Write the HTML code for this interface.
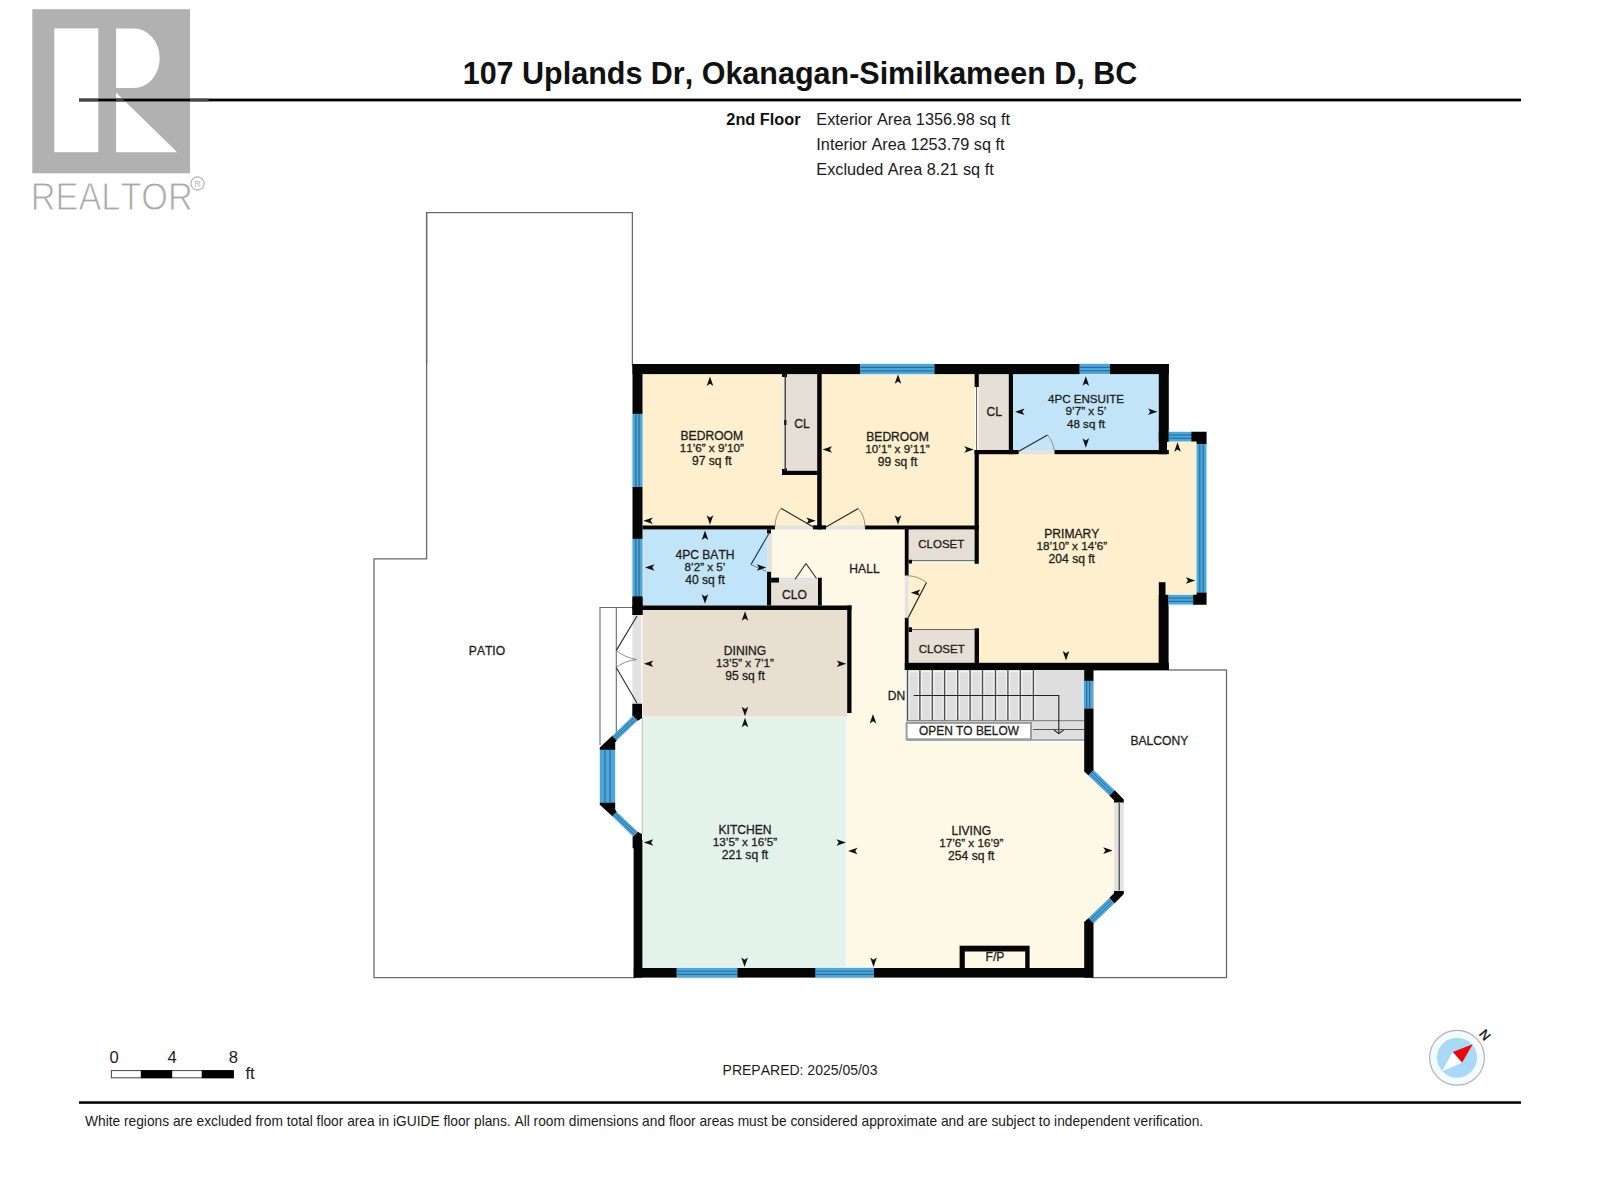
<!DOCTYPE html>
<html><head><meta charset="utf-8"><title>Floor plan</title>
<style>
html,body{margin:0;padding:0;background:#fff;}
body{width:1600px;height:1200px;overflow:hidden;}
svg{display:block;font-family:"Liberation Sans",sans-serif;font-kerning:none;}
</style></head><body>
<svg width="1600" height="1200" viewBox="0 0 1600 1200">
<rect x="0" y="0" width="1600" height="1200" fill="#fff"/>
<rect x="32.30" y="9.20" width="157.70" height="164.10" fill="#b1b1b1" />
<rect x="54.30" y="28.40" width="44.00" height="123.80" fill="#ffffff" />
<path d="M116.1,28.4 H134 A25.7,29.8 0 0 1 134,88 H116.1 Z" stroke="none" stroke-width="0" fill="#ffffff" />
<polygon points="116.10,92.60 177.20,152.20 116.10,152.20" fill="#ffffff" />
<text x="30.80" y="210.00" font-size="38" text-anchor="start" font-weight="normal" fill="#a9a9a9" textLength="162" lengthAdjust="spacingAndGlyphs" stroke="#fff" stroke-width="0.9">REALTOR</text>
<circle cx="197.5" cy="183.5" r="6.6" fill="none" stroke="#b5b5b5" stroke-width="1.2"/>
<text x="197.50" y="187.20" font-size="9" text-anchor="middle" font-weight="normal" fill="#b5b5b5" >R</text>
<text x="800.00" y="83.50" font-size="30.5" text-anchor="middle" font-weight="bold" fill="#111" >107 Uplands Dr, Okanagan-Similkameen D, BC</text>
<rect x="79.00" y="98.60" width="1442.00" height="2.80" fill="#000" />
<rect x="79.00" y="98.60" width="19.30" height="2.80" fill="#474747" />
<rect x="190.00" y="98.60" width="18.50" height="2.80" fill="#474747" />
<polygon points="116.10,98.60 122.10,98.60 125.00,101.40 116.10,101.40" fill="#474747" />
<text x="800.50" y="125.10" font-size="16.3" text-anchor="end" font-weight="bold" fill="#111" >2nd Floor</text>
<text x="816.30" y="125.10" font-size="16.3" text-anchor="start" font-weight="normal" fill="#1a1a1a" >Exterior Area 1356.98 sq ft</text>
<text x="816.30" y="150.00" font-size="16.3" text-anchor="start" font-weight="normal" fill="#1a1a1a" >Interior Area 1253.79 sq ft</text>
<text x="816.30" y="174.80" font-size="16.3" text-anchor="start" font-weight="normal" fill="#1a1a1a" >Excluded Area 8.21 sq ft</text>
<path d="M426.6,364 V212.6 H632.4 V366" stroke="#6a6a6a" stroke-width="1.3" fill="none" />
<path d="M426.6,212.6 V558.8 H374 V977.6 H636" stroke="#6a6a6a" stroke-width="1.3" fill="none" />
<path d="M600,745 V607.5 H633" stroke="#6a6a6a" stroke-width="1.1" fill="none" />
<line x1="616.30" y1="607.50" x2="616.30" y2="733.00" stroke="#6a6a6a" stroke-width="1.1" />
<line x1="642.30" y1="717.00" x2="642.30" y2="834.00" stroke="#8a8a8a" stroke-width="0.9" />
<rect x="1092" y="670" width="134.5" height="307.6" fill="#fff" stroke="#6a6a6a" stroke-width="1.3"/>
<rect x="642.50" y="373.80" width="175.00" height="152.20" fill="#fef0ce" />
<rect x="785.00" y="373.80" width="32.50" height="97.20" fill="#e6dfd5" />
<rect x="821.50" y="373.80" width="153.50" height="152.20" fill="#fef0ce" />
<rect x="978.50" y="373.80" width="30.50" height="76.20" fill="#e6dfd5" />
<rect x="1013.00" y="373.80" width="146.00" height="76.20" fill="#c1e4f9" />
<polygon points="979.00,454.00 1167.00,454.00 1167.00,441.00 1197.00,441.00 1197.00,595.50 1165.00,595.50 1165.00,663.00 979.00,663.00 979.00,630.00 908.50,630.00 908.50,563.00 979.00,563.00" fill="#fef0ce" />
<rect x="908.50" y="529.00" width="66.20" height="31.50" fill="#e6dfd5" />
<rect x="908.50" y="630.50" width="66.20" height="32.50" fill="#e6dfd5" />
<rect x="642.50" y="529.00" width="125.00" height="76.50" fill="#c1e4f9" />
<polygon points="771.00,529.00 905.00,529.00 905.00,742.00 1088.00,742.00 1088.00,770.00 1118.00,799.00 1118.00,895.00 1088.00,922.00 1088.00,968.00 847.00,968.00 847.00,605.50 771.00,605.50" fill="#fef8e7" />
<rect x="771.00" y="582.50" width="47.50" height="23.00" fill="#e6dfd5" />
<rect x="642.50" y="610.00" width="205.00" height="107.00" fill="#e8dfd1" />
<rect x="642.50" y="717.00" width="203.50" height="251.00" fill="#e4f2ec" />
<line x1="642.50" y1="716.80" x2="846.00" y2="716.80" stroke="#f1eee6" stroke-width="1.6" />
<rect x="906.50" y="670.00" width="177.50" height="71.00" fill="#dedede" />
<line x1="906.50" y1="671.60" x2="1033.40" y2="671.60" stroke="#f3f3f3" stroke-width="1.2" />
<line x1="905.90" y1="671.00" x2="905.90" y2="719.50" stroke="#f2f2f2" stroke-width="1" />
<line x1="909.20" y1="671.00" x2="909.20" y2="719.50" stroke="#f2f2f2" stroke-width="1.1" />
<line x1="918.30" y1="671.00" x2="918.30" y2="719.50" stroke="#f2f2f2" stroke-width="1" />
<line x1="921.60" y1="671.00" x2="921.60" y2="719.50" stroke="#f2f2f2" stroke-width="1.1" />
<line x1="930.70" y1="671.00" x2="930.70" y2="719.50" stroke="#f2f2f2" stroke-width="1" />
<line x1="934.00" y1="671.00" x2="934.00" y2="719.50" stroke="#f2f2f2" stroke-width="1.1" />
<line x1="943.00" y1="671.00" x2="943.00" y2="719.50" stroke="#f2f2f2" stroke-width="1" />
<line x1="946.30" y1="671.00" x2="946.30" y2="719.50" stroke="#f2f2f2" stroke-width="1.1" />
<line x1="956.10" y1="671.00" x2="956.10" y2="719.50" stroke="#f2f2f2" stroke-width="1" />
<line x1="959.40" y1="671.00" x2="959.40" y2="719.50" stroke="#f2f2f2" stroke-width="1.1" />
<line x1="968.50" y1="671.00" x2="968.50" y2="719.50" stroke="#f2f2f2" stroke-width="1" />
<line x1="971.80" y1="671.00" x2="971.80" y2="719.50" stroke="#f2f2f2" stroke-width="1.1" />
<line x1="980.90" y1="671.00" x2="980.90" y2="719.50" stroke="#f2f2f2" stroke-width="1" />
<line x1="984.20" y1="671.00" x2="984.20" y2="719.50" stroke="#f2f2f2" stroke-width="1.1" />
<line x1="993.90" y1="671.00" x2="993.90" y2="719.50" stroke="#f2f2f2" stroke-width="1" />
<line x1="997.20" y1="671.00" x2="997.20" y2="719.50" stroke="#f2f2f2" stroke-width="1.1" />
<line x1="1006.30" y1="671.00" x2="1006.30" y2="719.50" stroke="#f2f2f2" stroke-width="1" />
<line x1="1009.60" y1="671.00" x2="1009.60" y2="719.50" stroke="#f2f2f2" stroke-width="1.1" />
<line x1="1018.70" y1="671.00" x2="1018.70" y2="719.50" stroke="#f2f2f2" stroke-width="1" />
<line x1="1022.00" y1="671.00" x2="1022.00" y2="719.50" stroke="#f2f2f2" stroke-width="1.1" />
<line x1="1031.80" y1="671.00" x2="1031.80" y2="719.50" stroke="#f2f2f2" stroke-width="1" />
<line x1="1035.10" y1="671.00" x2="1035.10" y2="719.50" stroke="#f2f2f2" stroke-width="1.1" />
<line x1="907.50" y1="670.00" x2="907.50" y2="720.50" stroke="#4f4f4f" stroke-width="1.3" />
<line x1="919.90" y1="670.00" x2="919.90" y2="720.50" stroke="#4f4f4f" stroke-width="1.3" />
<line x1="932.30" y1="670.00" x2="932.30" y2="720.50" stroke="#4f4f4f" stroke-width="1.3" />
<line x1="944.60" y1="670.00" x2="944.60" y2="720.50" stroke="#4f4f4f" stroke-width="1.3" />
<line x1="957.70" y1="670.00" x2="957.70" y2="720.50" stroke="#4f4f4f" stroke-width="1.3" />
<line x1="970.10" y1="670.00" x2="970.10" y2="720.50" stroke="#4f4f4f" stroke-width="1.3" />
<line x1="982.50" y1="670.00" x2="982.50" y2="720.50" stroke="#4f4f4f" stroke-width="1.3" />
<line x1="995.50" y1="670.00" x2="995.50" y2="720.50" stroke="#4f4f4f" stroke-width="1.3" />
<line x1="1007.90" y1="670.00" x2="1007.90" y2="720.50" stroke="#4f4f4f" stroke-width="1.3" />
<line x1="1020.30" y1="670.00" x2="1020.30" y2="720.50" stroke="#4f4f4f" stroke-width="1.3" />
<line x1="1033.40" y1="670.00" x2="1033.40" y2="720.50" stroke="#4f4f4f" stroke-width="1.3" />
<line x1="906.50" y1="720.70" x2="1084.00" y2="720.70" stroke="#777" stroke-width="1" />
<line x1="1033.00" y1="729.50" x2="1084.00" y2="729.50" stroke="#555" stroke-width="1" />
<line x1="906.50" y1="740.00" x2="1084.00" y2="740.00" stroke="#9a9a9a" stroke-width="1.5" />
<rect x="906.6" y="722.9" width="124.4" height="16.4" fill="#fff" stroke="#9c9c9c" stroke-width="2"/>
<text x="969.00" y="735.00" font-size="11.9" text-anchor="middle" font-weight="normal" fill="#1e1e1a" stroke="#1e1e1a" stroke-width="0.3" >OPEN TO BELOW</text>
<path d="M913.7,695.5 H1058.8 V733" stroke="#222" stroke-width="1.1" fill="none" />
<path d="M1054,730 L1058.8,733.6 L1063.6,730" stroke="#222" stroke-width="1.1" fill="none" />
<text x="896.50" y="699.60" font-size="12.1" text-anchor="middle" font-weight="normal" fill="#1e1e1a" stroke="#1e1e1a" stroke-width="0.3" >DN</text>
<rect x="775.00" y="525.50" width="42.00" height="3.90" fill="#e2e2e2" />
<rect x="826.00" y="525.50" width="39.00" height="3.90" fill="#e2e2e2" />
<rect x="767.00" y="533.50" width="5.00" height="38.30" fill="#e2e2e2" />
<rect x="779.00" y="577.60" width="39.00" height="5.00" fill="#e2e2e2" />
<rect x="1018.70" y="450.00" width="35.80" height="4.20" fill="#e2e2e2" />
<rect x="904.80" y="575.50" width="3.80" height="42.30" fill="#e2e2e2" />
<rect x="632.40" y="615.00" width="8.90" height="89.00" fill="#e2e2e2" />
<rect x="1114.30" y="802.30" width="9.50" height="88.70" fill="#e2e2e2" />
<rect x="632.50" y="364.00" width="536.30" height="10.10" fill="#050505" />
<rect x="632.50" y="364.00" width="10.00" height="251.00" fill="#050505" />
<rect x="1158.80" y="364.00" width="10.00" height="77.60" fill="#050505" />
<rect x="1158.80" y="441.00" width="8.20" height="13.20" fill="#050505" />
<rect x="1158.80" y="431.70" width="10.80" height="9.90" fill="#050505" />
<rect x="1158.80" y="582.20" width="6.70" height="87.80" fill="#050505" />
<rect x="1158.80" y="594.80" width="9.80" height="75.20" fill="#050505" />
<rect x="904.80" y="662.80" width="264.00" height="7.20" fill="#050505" />
<rect x="642.50" y="525.50" width="132.50" height="3.90" fill="#050505" />
<rect x="817.20" y="373.80" width="4.50" height="155.60" fill="#050505" />
<rect x="813.00" y="525.30" width="13.00" height="4.10" fill="#050505" />
<rect x="865.00" y="525.50" width="114.00" height="3.90" fill="#050505" />
<rect x="974.60" y="373.80" width="4.20" height="13.20" fill="#050505" />
<rect x="974.60" y="450.00" width="4.20" height="113.80" fill="#050505" />
<rect x="974.60" y="450.00" width="38.40" height="4.20" fill="#050505" />
<rect x="1008.80" y="373.80" width="4.20" height="80.40" fill="#050505" />
<rect x="1013.00" y="450.00" width="5.70" height="4.20" fill="#050505" />
<rect x="1054.50" y="450.00" width="114.30" height="4.20" fill="#050505" />
<rect x="782.00" y="470.80" width="35.50" height="4.20" fill="#050505" />
<rect x="782.00" y="468.50" width="5.00" height="6.50" fill="#050505" />
<rect x="782.00" y="373.80" width="5.00" height="3.40" fill="#050505" />
<rect x="781.60" y="377.00" width="3.00" height="92.00" fill="#f1ede6" />
<line x1="785.20" y1="375.00" x2="785.20" y2="471.00" stroke="#333" stroke-width="1.3" />
<rect x="784.00" y="420.00" width="2.50" height="5.00" fill="#222" />
<line x1="976.60" y1="387.00" x2="976.60" y2="450.00" stroke="#555" stroke-width="1" />
<rect x="767.00" y="529.40" width="4.00" height="4.10" fill="#050505" />
<rect x="767.00" y="571.80" width="4.10" height="33.70" fill="#050505" />
<rect x="771.10" y="577.70" width="7.90" height="4.90" fill="#050505" />
<rect x="818.00" y="577.70" width="3.80" height="27.80" fill="#050505" />
<rect x="632.50" y="605.50" width="219.00" height="4.50" fill="#050505" />
<rect x="847.20" y="605.50" width="4.30" height="107.50" fill="#050505" />
<rect x="904.80" y="529.00" width="3.80" height="46.50" fill="#050505" />
<rect x="904.80" y="617.80" width="3.80" height="52.20" fill="#050505" />
<rect x="908.60" y="559.80" width="3.40" height="3.70" fill="#050505" />
<rect x="908.60" y="627.30" width="3.40" height="4.70" fill="#050505" />
<line x1="912.00" y1="560.70" x2="975.00" y2="560.70" stroke="#555" stroke-width="1" />
<line x1="912.00" y1="629.60" x2="975.00" y2="629.60" stroke="#555" stroke-width="1" />
<rect x="974.60" y="628.30" width="4.40" height="41.70" fill="#050505" />
<rect x="632.50" y="597.40" width="10.00" height="17.60" fill="#050505" />
<polygon points="632.50,703.80 642.00,703.80 642.00,717.50 637.50,721.00 632.50,716.00" fill="#050505" />
<polygon points="632.60,703.90 642.00,703.90 642.00,718.00 637.80,720.40 633.00,715.80 632.60,715.80" fill="#050505" />
<polygon points="632.60,848.30 642.00,848.30 642.00,834.20 637.80,831.80 633.00,836.40 632.60,836.40" fill="#050505" />
<polygon points="612.60,735.60 617.00,740.00 615.20,742.50 615.20,749.90 599.80,749.90 599.80,747.40" fill="#050505" />
<polygon points="612.60,816.60 617.00,812.20 615.20,809.70 615.20,802.30 599.80,802.30 599.80,804.80" fill="#050505" />
<polygon points="633.00,715.80 637.80,720.40 616.60,740.40 612.20,736.00" fill="#4fa6d6" />
<line x1="634.60" y1="717.33" x2="613.67" y2="737.47" stroke="#256fa0" stroke-width="1.0" />
<line x1="636.20" y1="718.87" x2="615.13" y2="738.93" stroke="#256fa0" stroke-width="1.0" />
<polygon points="633.00,836.40 637.80,831.80 616.60,811.80 612.20,816.20" fill="#4fa6d6" />
<line x1="634.60" y1="834.87" x2="613.67" y2="814.73" stroke="#256fa0" stroke-width="1.0" />
<line x1="636.20" y1="833.33" x2="615.13" y2="813.27" stroke="#256fa0" stroke-width="1.0" />
<polygon points="599.80,749.70 599.80,802.50 615.20,802.50 615.20,749.70" fill="#4fa6d6" />
<line x1="610.07" y1="749.70" x2="610.07" y2="802.50" stroke="#256fa0" stroke-width="1.15" />
<line x1="604.93" y1="749.70" x2="604.93" y2="802.50" stroke="#256fa0" stroke-width="1.15" />
<line x1="615.70" y1="749.70" x2="615.70" y2="802.50" stroke="#d4f1fb" stroke-width="1.0" />
<line x1="599.30" y1="749.70" x2="599.30" y2="802.50" stroke="#d4f1fb" stroke-width="1.0" />
<rect x="633.60" y="840.00" width="8.80" height="137.60" fill="#050505" />
<rect x="633.80" y="968.00" width="458.50" height="9.60" fill="#050505" />
<rect x="959.60" y="945.70" width="70.00" height="22.30" fill="#050505" />
<rect x="964.80" y="951.50" width="60.40" height="16.50" fill="#fef8e7" />
<text x="995.00" y="961.20" font-size="12.1" text-anchor="middle" font-weight="normal" fill="#1e1e1a" stroke="#1e1e1a" stroke-width="0.3" >F/P</text>
<rect x="1084.20" y="670.00" width="9.30" height="101.00" fill="#050505" />
<rect x="1084.20" y="922.00" width="9.30" height="55.60" fill="#050505" />
<polygon points="1084.20,770.50 1093.50,769.50 1093.50,770.60 1088.60,775.60 1084.20,771.50" fill="#050505" />
<polygon points="1084.20,923.00 1093.50,924.00 1093.50,922.90 1088.60,917.90 1084.20,922.00" fill="#050505" />
<polygon points="1109.20,795.40 1114.50,790.10 1123.80,799.50 1123.80,802.60 1114.00,802.60 1114.00,800.20" fill="#050505" />
<polygon points="1109.20,898.10 1114.50,903.40 1123.80,894.00 1123.80,890.90 1114.00,890.90 1114.00,893.30" fill="#050505" />
<polygon points="1088.30,775.40 1093.60,770.10 1114.60,790.30 1109.40,795.60" fill="#4fa6d6" />
<line x1="1090.07" y1="773.63" x2="1111.13" y2="793.83" stroke="#256fa0" stroke-width="1.0" />
<line x1="1091.83" y1="771.87" x2="1112.87" y2="792.07" stroke="#256fa0" stroke-width="1.0" />
<polygon points="1088.30,918.10 1093.60,923.40 1114.60,903.20 1109.40,897.90" fill="#4fa6d6" />
<line x1="1090.07" y1="919.87" x2="1111.13" y2="899.67" stroke="#256fa0" stroke-width="1.0" />
<line x1="1091.83" y1="921.63" x2="1112.87" y2="901.43" stroke="#256fa0" stroke-width="1.0" />
<line x1="1119.20" y1="803.00" x2="1119.20" y2="890.50" stroke="#222" stroke-width="1" />
<polygon points="860.00,374.20 934.50,374.20 934.50,364.00 860.00,364.00" fill="#4fa6d6" />
<line x1="860.00" y1="367.40" x2="934.50" y2="367.40" stroke="#256fa0" stroke-width="1.15" />
<line x1="860.00" y1="370.80" x2="934.50" y2="370.80" stroke="#256fa0" stroke-width="1.15" />
<line x1="860.00" y1="363.50" x2="934.50" y2="363.50" stroke="#d4f1fb" stroke-width="1.0" />
<line x1="860.00" y1="374.70" x2="934.50" y2="374.70" stroke="#d4f1fb" stroke-width="1.0" />
<polygon points="1079.50,374.20 1110.00,374.20 1110.00,364.00 1079.50,364.00" fill="#4fa6d6" />
<line x1="1079.50" y1="367.40" x2="1110.00" y2="367.40" stroke="#256fa0" stroke-width="1.15" />
<line x1="1079.50" y1="370.80" x2="1110.00" y2="370.80" stroke="#256fa0" stroke-width="1.15" />
<line x1="1079.50" y1="363.50" x2="1110.00" y2="363.50" stroke="#d4f1fb" stroke-width="1.0" />
<line x1="1079.50" y1="374.70" x2="1110.00" y2="374.70" stroke="#d4f1fb" stroke-width="1.0" />
<polygon points="632.60,413.80 632.60,487.00 642.40,487.00 642.40,413.80" fill="#4fa6d6" />
<line x1="639.13" y1="413.80" x2="639.13" y2="487.00" stroke="#256fa0" stroke-width="1.15" />
<line x1="635.87" y1="413.80" x2="635.87" y2="487.00" stroke="#256fa0" stroke-width="1.15" />
<line x1="642.90" y1="413.80" x2="642.90" y2="487.00" stroke="#d4f1fb" stroke-width="1.0" />
<line x1="632.10" y1="413.80" x2="632.10" y2="487.00" stroke="#d4f1fb" stroke-width="1.0" />
<polygon points="632.60,538.80 632.60,596.30 642.40,596.30 642.40,538.80" fill="#4fa6d6" />
<line x1="639.13" y1="538.80" x2="639.13" y2="596.30" stroke="#256fa0" stroke-width="1.15" />
<line x1="635.87" y1="538.80" x2="635.87" y2="596.30" stroke="#256fa0" stroke-width="1.15" />
<line x1="642.90" y1="538.80" x2="642.90" y2="596.30" stroke="#d4f1fb" stroke-width="1.0" />
<line x1="632.10" y1="538.80" x2="632.10" y2="596.30" stroke="#d4f1fb" stroke-width="1.0" />
<polygon points="1168.60,441.60 1191.50,441.60 1191.50,431.70 1168.60,431.70" fill="#4fa6d6" />
<line x1="1168.60" y1="435.00" x2="1191.50" y2="435.00" stroke="#256fa0" stroke-width="1.15" />
<line x1="1168.60" y1="438.30" x2="1191.50" y2="438.30" stroke="#256fa0" stroke-width="1.15" />
<line x1="1168.60" y1="431.20" x2="1191.50" y2="431.20" stroke="#d4f1fb" stroke-width="1.0" />
<line x1="1168.60" y1="442.10" x2="1191.50" y2="442.10" stroke="#d4f1fb" stroke-width="1.0" />
<polygon points="1191.30,431.70 1206.60,431.70 1206.60,443.90 1196.60,443.90 1196.60,441.60 1191.30,441.60" fill="#050505" />
<polygon points="1196.40,443.90 1196.40,592.50 1206.60,592.50 1206.60,443.90" fill="#4fa6d6" />
<line x1="1203.20" y1="443.90" x2="1203.20" y2="592.50" stroke="#256fa0" stroke-width="1.15" />
<line x1="1199.80" y1="443.90" x2="1199.80" y2="592.50" stroke="#256fa0" stroke-width="1.15" />
<line x1="1207.10" y1="443.90" x2="1207.10" y2="592.50" stroke="#d4f1fb" stroke-width="1.0" />
<line x1="1195.90" y1="443.90" x2="1195.90" y2="592.50" stroke="#d4f1fb" stroke-width="1.0" />
<polygon points="1196.60,592.50 1206.60,592.50 1206.60,604.70 1193.00,604.70 1193.00,594.80 1196.60,594.80" fill="#050505" />
<polygon points="1168.60,604.70 1193.20,604.70 1193.20,594.80 1168.60,594.80" fill="#4fa6d6" />
<line x1="1168.60" y1="598.10" x2="1193.20" y2="598.10" stroke="#256fa0" stroke-width="1.15" />
<line x1="1168.60" y1="601.40" x2="1193.20" y2="601.40" stroke="#256fa0" stroke-width="1.15" />
<line x1="1168.60" y1="594.30" x2="1193.20" y2="594.30" stroke="#d4f1fb" stroke-width="1.0" />
<line x1="1168.60" y1="605.20" x2="1193.20" y2="605.20" stroke="#d4f1fb" stroke-width="1.0" />
<polygon points="1083.60,680.80 1083.60,708.60 1092.60,708.60 1092.60,680.80" fill="#4fa6d6" />
<line x1="1089.60" y1="680.80" x2="1089.60" y2="708.60" stroke="#256fa0" stroke-width="1.15" />
<line x1="1086.60" y1="680.80" x2="1086.60" y2="708.60" stroke="#256fa0" stroke-width="1.15" />
<line x1="1093.10" y1="680.80" x2="1093.10" y2="708.60" stroke="#d4f1fb" stroke-width="1.0" />
<line x1="1083.10" y1="680.80" x2="1083.10" y2="708.60" stroke="#d4f1fb" stroke-width="1.0" />
<polygon points="676.60,977.60 737.50,977.60 737.50,968.00 676.60,968.00" fill="#4fa6d6" />
<line x1="676.60" y1="971.20" x2="737.50" y2="971.20" stroke="#256fa0" stroke-width="1.15" />
<line x1="676.60" y1="974.40" x2="737.50" y2="974.40" stroke="#256fa0" stroke-width="1.15" />
<line x1="676.60" y1="967.50" x2="737.50" y2="967.50" stroke="#d4f1fb" stroke-width="1.0" />
<line x1="676.60" y1="978.10" x2="737.50" y2="978.10" stroke="#d4f1fb" stroke-width="1.0" />
<polygon points="815.30,977.60 874.00,977.60 874.00,968.00 815.30,968.00" fill="#4fa6d6" />
<line x1="815.30" y1="971.20" x2="874.00" y2="971.20" stroke="#256fa0" stroke-width="1.15" />
<line x1="815.30" y1="974.40" x2="874.00" y2="974.40" stroke="#256fa0" stroke-width="1.15" />
<line x1="815.30" y1="967.50" x2="874.00" y2="967.50" stroke="#d4f1fb" stroke-width="1.0" />
<line x1="815.30" y1="978.10" x2="874.00" y2="978.10" stroke="#d4f1fb" stroke-width="1.0" />
<line x1="813.30" y1="527.00" x2="781.00" y2="508.30" stroke="#2a2a2a" stroke-width="1.2" />
<path d="M781,508.3 Q775,516 775,527" stroke="#8f8a55" stroke-width="0.9" fill="none" />
<line x1="826.00" y1="527.00" x2="858.30" y2="508.50" stroke="#2a2a2a" stroke-width="1.2" />
<path d="M858.3,508.5 Q865,516 865,527" stroke="#8f8a55" stroke-width="0.9" fill="none" />
<line x1="768.90" y1="533.50" x2="750.90" y2="564.60" stroke="#1d4660" stroke-width="1.2" />
<line x1="750.90" y1="564.60" x2="766.30" y2="571.40" stroke="#5a7a8a" stroke-width="0.9" />
<line x1="795.10" y1="579.30" x2="806.00" y2="563.50" stroke="#2a2a2a" stroke-width="1.1" />
<line x1="806.00" y1="563.50" x2="816.50" y2="578.50" stroke="#2a2a2a" stroke-width="1.1" />
<line x1="908.20" y1="617.60" x2="926.50" y2="582.50" stroke="#2a2a2a" stroke-width="1.2" />
<path d="M926.5,582.5 Q918,576 908.2,575.8" stroke="#8f8a55" stroke-width="0.9" fill="none" />
<line x1="1018.80" y1="451.30" x2="1047.50" y2="435.00" stroke="#2a2a2a" stroke-width="1.2" />
<path d="M1047.5,435 Q1053,441 1054.5,451.3" stroke="#8f8a55" stroke-width="0.9" fill="none" />
<line x1="637.00" y1="616.00" x2="616.20" y2="650.60" stroke="#2a2a2a" stroke-width="1.1" />
<line x1="616.20" y1="667.50" x2="637.00" y2="703.00" stroke="#2a2a2a" stroke-width="1.1" />
<path d="M616.2,650.6 Q624,657 636.6,659.6" stroke="#777" stroke-width="0.8" fill="none" />
<path d="M616.2,667.5 Q624,661 636.6,659.6" stroke="#777" stroke-width="0.8" fill="none" />
<polygon points="710.00,376.50 706.70,386.00 710.00,383.80 713.30,386.00" fill="#111" />
<polygon points="710.00,524.80 713.30,515.30 710.00,517.50 706.70,515.30" fill="#111" />
<polygon points="643.30,520.80 652.80,517.50 650.60,520.80 652.80,524.10" fill="#111" />
<polygon points="815.80,520.80 806.30,524.10 808.50,520.80 806.30,517.50" fill="#111" />
<polygon points="898.00,374.20 894.70,383.70 898.00,381.50 901.30,383.70" fill="#111" />
<polygon points="898.00,524.80 901.30,515.30 898.00,517.50 894.70,515.30" fill="#111" />
<polygon points="822.50,449.50 832.00,446.20 829.80,449.50 832.00,452.80" fill="#111" />
<polygon points="973.80,449.50 964.30,452.80 966.50,449.50 964.30,446.20" fill="#111" />
<polygon points="1085.80,376.30 1082.50,385.80 1085.80,383.60 1089.10,385.80" fill="#111" />
<polygon points="1085.80,447.80 1089.10,438.30 1085.80,440.50 1082.50,438.30" fill="#111" />
<polygon points="1015.00,411.80 1024.50,408.50 1022.30,411.80 1024.50,415.10" fill="#111" />
<polygon points="1157.50,411.80 1148.00,415.10 1150.20,411.80 1148.00,408.50" fill="#111" />
<polygon points="705.00,530.40 701.70,539.90 705.00,537.70 708.30,539.90" fill="#111" />
<polygon points="705.00,603.80 708.30,594.30 705.00,596.50 701.70,594.30" fill="#111" />
<polygon points="645.00,567.50 654.50,564.20 652.30,567.50 654.50,570.80" fill="#111" />
<polygon points="766.30,567.50 756.80,570.80 759.00,567.50 756.80,564.20" fill="#111" />
<polygon points="1177.50,442.20 1174.20,451.70 1177.50,449.50 1180.80,451.70" fill="#111" />
<polygon points="1066.00,660.50 1069.30,651.00 1066.00,653.20 1062.70,651.00" fill="#111" />
<polygon points="910.80,592.70 920.30,589.40 918.10,592.70 920.30,596.00" fill="#111" />
<polygon points="1195.30,580.50 1185.80,583.80 1188.00,580.50 1185.80,577.20" fill="#111" />
<polygon points="745.00,611.30 741.70,620.80 745.00,618.60 748.30,620.80" fill="#111" />
<polygon points="745.00,716.30 748.30,706.80 745.00,709.00 741.70,706.80" fill="#111" />
<polygon points="643.80,663.80 653.30,660.50 651.10,663.80 653.30,667.10" fill="#111" />
<polygon points="846.30,663.80 836.80,667.10 839.00,663.80 836.80,660.50" fill="#111" />
<polygon points="745.00,717.80 741.70,727.30 745.00,725.10 748.30,727.30" fill="#111" />
<polygon points="744.60,967.00 747.90,957.50 744.60,959.70 741.30,957.50" fill="#111" />
<polygon points="643.80,842.50 653.30,839.20 651.10,842.50 653.30,845.80" fill="#111" />
<polygon points="846.00,842.50 836.50,845.80 838.70,842.50 836.50,839.20" fill="#111" />
<polygon points="873.00,714.00 869.70,723.50 873.00,721.30 876.30,723.50" fill="#111" />
<polygon points="873.50,967.00 876.80,957.50 873.50,959.70 870.20,957.50" fill="#111" />
<polygon points="848.00,851.00 857.50,847.70 855.30,851.00 857.50,854.30" fill="#111" />
<polygon points="1112.70,850.60 1103.20,853.90 1105.40,850.60 1103.20,847.30" fill="#111" />
<text x="711.80" y="440.00" font-size="12.1" text-anchor="middle" font-weight="normal" fill="#1e1e1a" stroke="#1e1e1a" stroke-width="0.3" >BEDROOM</text>
<text x="711.80" y="452.00" font-size="11.7" text-anchor="middle" font-weight="normal" fill="#1e1e1a" stroke="#1e1e1a" stroke-width="0.3" >11’6” x 9’10”</text>
<text x="711.80" y="465.00" font-size="12.1" text-anchor="middle" font-weight="normal" fill="#1e1e1a" stroke="#1e1e1a" stroke-width="0.3" >97 sq ft</text>
<text x="897.50" y="440.70" font-size="12.1" text-anchor="middle" font-weight="normal" fill="#1e1e1a" stroke="#1e1e1a" stroke-width="0.3" >BEDROOM</text>
<text x="897.50" y="452.70" font-size="11.7" text-anchor="middle" font-weight="normal" fill="#1e1e1a" stroke="#1e1e1a" stroke-width="0.3" >10’1” x 9’11”</text>
<text x="897.50" y="465.70" font-size="12.1" text-anchor="middle" font-weight="normal" fill="#1e1e1a" stroke="#1e1e1a" stroke-width="0.3" >99 sq ft</text>
<text x="1086.00" y="403.00" font-size="11.6" text-anchor="middle" font-weight="normal" fill="#1e1e1a" stroke="#1e1e1a" stroke-width="0.3" >4PC ENSUITE</text>
<text x="1086.00" y="415.00" font-size="11.7" text-anchor="middle" font-weight="normal" fill="#1e1e1a" stroke="#1e1e1a" stroke-width="0.3" >9’7” x 5’</text>
<text x="1086.00" y="428.00" font-size="11.6" text-anchor="middle" font-weight="normal" fill="#1e1e1a" stroke="#1e1e1a" stroke-width="0.3" >48 sq ft</text>
<text x="705.00" y="558.80" font-size="12.1" text-anchor="middle" font-weight="normal" fill="#1e1e1a" stroke="#1e1e1a" stroke-width="0.3" >4PC BATH</text>
<text x="705.00" y="570.80" font-size="11.7" text-anchor="middle" font-weight="normal" fill="#1e1e1a" stroke="#1e1e1a" stroke-width="0.3" >8’2” x 5’</text>
<text x="705.00" y="583.80" font-size="12.1" text-anchor="middle" font-weight="normal" fill="#1e1e1a" stroke="#1e1e1a" stroke-width="0.3" >40 sq ft</text>
<text x="1071.80" y="538.30" font-size="12.1" text-anchor="middle" font-weight="normal" fill="#1e1e1a" stroke="#1e1e1a" stroke-width="0.3" >PRIMARY</text>
<text x="1071.80" y="550.30" font-size="11.7" text-anchor="middle" font-weight="normal" fill="#1e1e1a" stroke="#1e1e1a" stroke-width="0.3" >18’10” x 14’6”</text>
<text x="1071.80" y="563.30" font-size="12.1" text-anchor="middle" font-weight="normal" fill="#1e1e1a" stroke="#1e1e1a" stroke-width="0.3" >204 sq ft</text>
<text x="745.00" y="655.00" font-size="12.1" text-anchor="middle" font-weight="normal" fill="#1e1e1a" stroke="#1e1e1a" stroke-width="0.3" >DINING</text>
<text x="745.00" y="667.00" font-size="11.7" text-anchor="middle" font-weight="normal" fill="#1e1e1a" stroke="#1e1e1a" stroke-width="0.3" >13’5” x 7’1”</text>
<text x="745.00" y="680.00" font-size="12.1" text-anchor="middle" font-weight="normal" fill="#1e1e1a" stroke="#1e1e1a" stroke-width="0.3" >95 sq ft</text>
<text x="745.00" y="833.80" font-size="12.1" text-anchor="middle" font-weight="normal" fill="#1e1e1a" stroke="#1e1e1a" stroke-width="0.3" >KITCHEN</text>
<text x="745.00" y="845.80" font-size="11.7" text-anchor="middle" font-weight="normal" fill="#1e1e1a" stroke="#1e1e1a" stroke-width="0.3" >13’5” x 16’5”</text>
<text x="745.00" y="858.80" font-size="12.1" text-anchor="middle" font-weight="normal" fill="#1e1e1a" stroke="#1e1e1a" stroke-width="0.3" >221 sq ft</text>
<text x="971.30" y="834.50" font-size="12.1" text-anchor="middle" font-weight="normal" fill="#1e1e1a" stroke="#1e1e1a" stroke-width="0.3" >LIVING</text>
<text x="971.30" y="846.50" font-size="11.7" text-anchor="middle" font-weight="normal" fill="#1e1e1a" stroke="#1e1e1a" stroke-width="0.3" >17’6” x 16’9”</text>
<text x="971.30" y="859.50" font-size="12.1" text-anchor="middle" font-weight="normal" fill="#1e1e1a" stroke="#1e1e1a" stroke-width="0.3" >254 sq ft</text>
<text x="802.00" y="427.50" font-size="12.1" text-anchor="middle" font-weight="normal" fill="#1e1e1a" stroke="#1e1e1a" stroke-width="0.3" >CL</text>
<text x="994.30" y="416.30" font-size="12.1" text-anchor="middle" font-weight="normal" fill="#1e1e1a" stroke="#1e1e1a" stroke-width="0.3" >CL</text>
<text x="794.50" y="598.50" font-size="12.1" text-anchor="middle" font-weight="normal" fill="#1e1e1a" stroke="#1e1e1a" stroke-width="0.3" >CLO</text>
<text x="941.30" y="547.70" font-size="11.5" text-anchor="middle" font-weight="normal" fill="#1e1e1a" stroke="#1e1e1a" stroke-width="0.3" >CLOSET</text>
<text x="941.70" y="652.70" font-size="11.5" text-anchor="middle" font-weight="normal" fill="#1e1e1a" stroke="#1e1e1a" stroke-width="0.3" >CLOSET</text>
<text x="864.50" y="573.00" font-size="12.1" text-anchor="middle" font-weight="normal" fill="#1e1e1a" stroke="#1e1e1a" stroke-width="0.3" >HALL</text>
<text x="487.00" y="655.30" font-size="12.1" text-anchor="middle" font-weight="normal" fill="#1e1e1a" stroke="#1e1e1a" stroke-width="0.3" >PATIO</text>
<text x="1159.40" y="745.00" font-size="12.1" text-anchor="middle" font-weight="normal" fill="#1e1e1a" stroke="#1e1e1a" stroke-width="0.3" >BALCONY</text>
<rect x="111.4" y="1070.6" width="122" height="7.2" fill="#fff" stroke="#444" stroke-width="1"/>
<rect x="140.80" y="1070.20" width="31.40" height="8.00" fill="#000" />
<rect x="201.70" y="1070.20" width="32.10" height="8.00" fill="#000" />
<text x="114.20" y="1062.60" font-size="16.6" text-anchor="middle" font-weight="normal" fill="#1c1c1c" >0</text>
<text x="172.20" y="1062.60" font-size="16.6" text-anchor="middle" font-weight="normal" fill="#1c1c1c" >4</text>
<text x="233.40" y="1062.60" font-size="16.6" text-anchor="middle" font-weight="normal" fill="#1c1c1c" >8</text>
<text x="245.50" y="1078.80" font-size="16.6" text-anchor="start" font-weight="normal" fill="#1c1c1c" >ft</text>
<text x="800.00" y="1075.40" font-size="14.0" text-anchor="middle" font-weight="normal" fill="#1c1c1c" >PREPARED: 2025/05/03</text>
<circle cx="1457" cy="1057.7" r="27.4" fill="#f4fbff" stroke="#b0b0b0" stroke-width="1.2"/>
<circle cx="1457" cy="1057.7" r="20" fill="#a9d9f7"/>
<polygon points="1472.70,1044.30 1452.70,1052.00 1462.00,1062.70" fill="#e8070c" />
<polygon points="1442.00,1071.20 1452.70,1052.00 1462.00,1062.70" fill="#ffffff" />
<text x="1485.00" y="1039.60" font-size="13" text-anchor="middle" font-weight="normal" fill="#111" stroke="#111" stroke-width="0.4" transform="rotate(50 1485 1035)">N</text>
<rect x="79.00" y="1101.30" width="1442.00" height="2.50" fill="#000" />
<text x="85.00" y="1126.00" font-size="13.76" text-anchor="start" font-weight="normal" fill="#1a1a1a" >White regions are excluded from total floor area in iGUIDE floor plans. All room dimensions and floor areas must be considered approximate and are subject to independent verification.</text>
</svg>
</body></html>
